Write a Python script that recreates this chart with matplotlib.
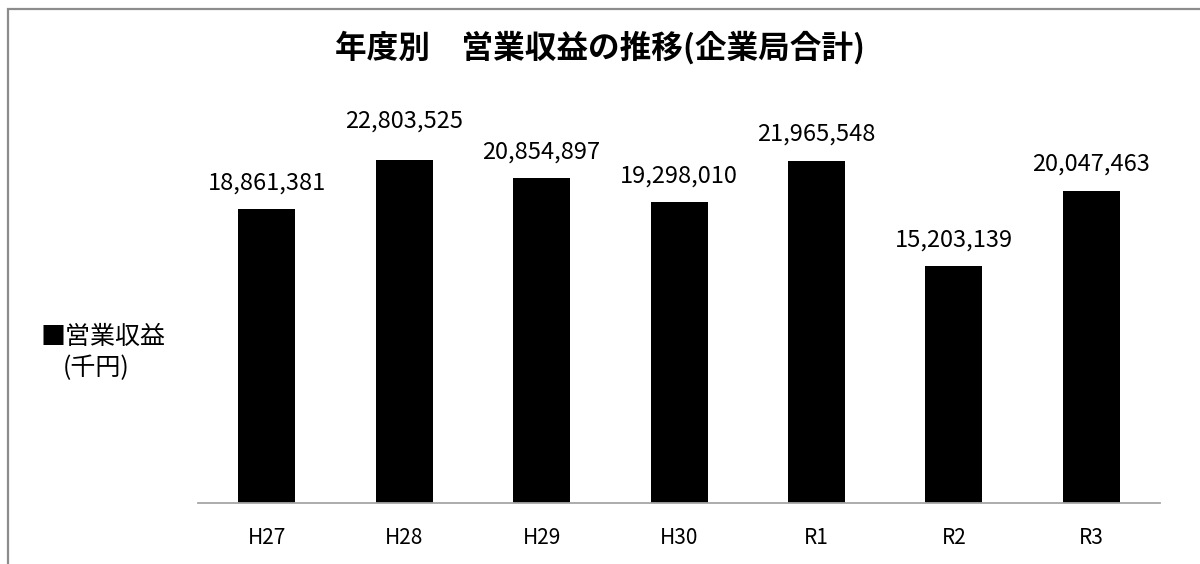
import matplotlib.pyplot as plt
import matplotlib.patches as mpatches

years = ["H27", "H28", "H29", "H30", "R1", "R2", "R3"]
revenue = [18861381, 22803525, 20854897, 19298010, 21965548, 15203139, 20047463]
y_max = 22000000

title = "年度別　営業収益の推移(企業局合計)"
legend_label = "■営業収益"
unit_label = "(千円)"


def main():
    plt.rcParams['font.family'] = ['Noto Sans CJK JP', 'DejaVu Sans']

    fig = plt.figure(figsize=(12, 5.64), dpi=100)
    ax = fig.add_axes([0.165, 0.108, 0.8017, 0.608])

    x = range(len(years))
    ax.bar(x, revenue, width=0.415, color="black")
    ax.set_xlim(-0.5, len(years) - 0.5)
    ax.set_ylim(0, y_max)

    # data labels (H28 sits above the clipped bar)
    for i, v in enumerate(revenue):
        ax.annotate(f"{v:,}", (i, v), xytext=(0, 19), textcoords="offset points",
                    ha="center", va="center", fontsize=17, annotation_clip=False)

    ax.set_xticks(list(x))
    ax.set_xticklabels(years, fontsize=15)
    ax.tick_params(axis="x", length=0, pad=17)
    ax.set_yticks([])
    for side in ["top", "left", "right"]:
        ax.spines[side].set_visible(False)
    ax.spines["bottom"].set_color("#a6a6a6")
    ax.spines["bottom"].set_linewidth(1.3)

    fig.text(0.5, 0.915, title, ha="center", va="center", fontsize=22.8, fontweight="bold")
    fig.text(0.034, 0.402, legend_label, ha="left", va="center", fontsize=18)
    fig.text(0.052, 0.347, unit_label, ha="left", va="center", fontsize=18)

    # outer chart frame (only left and top edges in view)
    frame = mpatches.Rectangle((8 / 1200, -0.1), 1.2, 1.1 - 9 / 564,
                               transform=fig.transFigure, fill=False,
                               edgecolor="#8c8c8c", linewidth=1.6)
    fig.patches.append(frame)

    fig.savefig("out.png", dpi=100)


if __name__ == '__main__':
    main()
